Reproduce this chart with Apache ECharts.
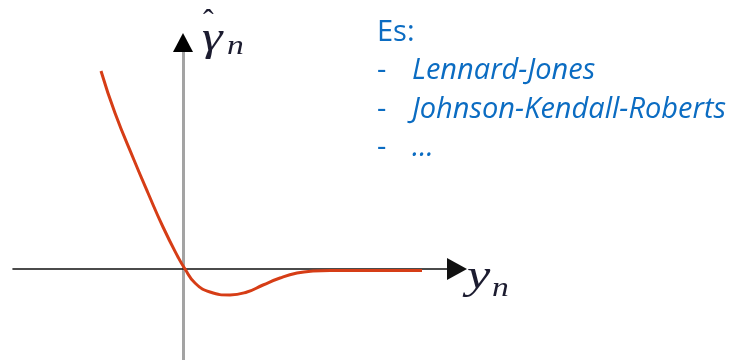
<!DOCTYPE html>
<html>
<head>
<meta charset="utf-8">
<script src="https://cdn.jsdelivr.net/npm/echarts@6/dist/echarts.min.js"></script>
<style>
  html, body { margin: 0; padding: 0; background: #ffffff; }
  #chart { width: 739px; height: 360px; }
</style>
</head>
<body>
<div id="chart"></div>
<script>
// Normal contact law: force vs. gap (sketch of an adhesive contact curve)
const gapValues   = [-1.64, -1.36, -0.98, -0.70, -0.40, -0.10, 0.04, 0.24, 0.54, 0.94, 1.28, 1.60, 1.94, 2.28, 2.60, 2.94, 3.94, 4.78];
const forceValues = [ 3.96,  3.12,  2.18,  1.52,  0.84,  0.24, 0.00, -0.28, -0.46, -0.52, -0.46, -0.32, -0.18, -0.08, -0.04, -0.03, -0.03, -0.03];

const xRange = [-3.4, 5.48];
const yRange = [-1.82, 4.34];

const headLine = 'Es:';
const examples = ['Lennard-Jones', 'Johnson-Kendall-Roberts', '...'];

const blue = '#0b6cc2';
const mathColor = '#1c1c30';
const textFont = '"Open Sans"';

const chart = echarts.init(document.getElementById('chart'), null, { renderer: 'canvas' });

const points = gapValues.map((g, i) => [g, forceValues[i]]);

const listTexts = [];
listTexts.push({
  type: 'text', left: 377, top: 18,
  style: { text: headLine, font: '29px ' + textFont, fill: blue }
});
examples.forEach((t, i) => {
  const top = 56.5 + i * 38.3;
  listTexts.push({
    type: 'text', left: 377, top: top,
    style: { text: '-', font: '29px ' + textFont, fill: blue }
  });
  listTexts.push({
    type: 'text', left: 412, top: top,
    style: { text: t, font: 'italic 29px ' + textFont, fill: blue }
  });
});

chart.setOption({
  animation: false,
  backgroundColor: '#ffffff',
  grid: { left: 13, right: 282, top: 52, bottom: 0, containLabel: false },
  xAxis: {
    type: 'value', min: xRange[0], max: xRange[1],
    axisLine: {
      onZero: true,
      lineStyle: { color: '#111111', width: 1.6 },
      symbol: ['none', 'triangle'],
      symbolSize: [22, 20]
    },
    axisTick: { show: false }, axisLabel: { show: false }, splitLine: { show: false }
  },
  yAxis: {
    type: 'value', min: yRange[0], max: yRange[1],
    axisLine: {
      onZero: true,
      lineStyle: { color: '#a3a3a3', width: 3 }
    },
    axisTick: { show: false }, axisLabel: { show: false }, splitLine: { show: false }
  },
  series: [{
    type: 'line',
    data: points,
    smooth: 0.5,
    showSymbol: false,
    lineStyle: { color: '#d63d16', width: 3 },
    z: 5
  }],
  graphic: listTexts
});

// arrow head on top of the vertical axis, placed at the axis end
const top0 = chart.convertToPixel({ gridIndex: 0 }, [0, yRange[1]]);
chart.setOption({
  graphic: listTexts.concat([
    {
      type: 'polygon',
      shape: { points: [[top0[0] - 10, top0[1]], [top0[0] + 10, top0[1]], [top0[0], top0[1] - 19]] },
      style: { fill: '#000000' },
      z: 20
    },
    { type: 'text', left: 203, top: 7, style: { text: 'ˆ', font: '32px "Liberation Serif"', fill: mathColor } },
    { type: 'text', left: 202, top: 19, scaleX: 1.3, style: { text: 'γ', font: 'italic 40px "Liberation Serif"', fill: mathColor } },
    { type: 'text', left: 227, top: 33, scaleX: 1.2, style: { text: 'n', font: 'italic 28px "Liberation Serif"', fill: mathColor } },
    { type: 'text', left: 467, top: 256, scaleX: 1.25, style: { text: 'y', font: 'italic 42px "Liberation Serif"', fill: mathColor } },
    { type: 'text', left: 492, top: 275, scaleX: 1.2, style: { text: 'n', font: 'italic 28px "Liberation Serif"', fill: mathColor } }
  ])
});
</script>
</body>
</html>
